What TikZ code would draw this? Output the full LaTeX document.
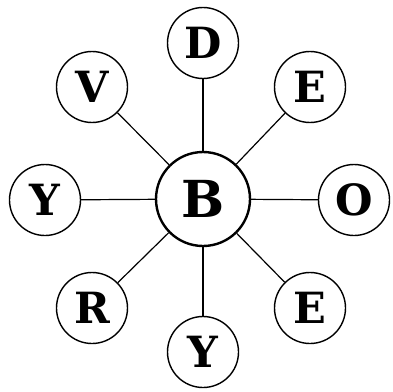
\documentclass[tikz,border=0pt]{standalone}
\usepackage{fontspec}
\newfontfamily\letterfont{DejaVu Serif}
\usepackage{tikz}
\usetikzlibrary{positioning}

\begin{document}
\begin{tikzpicture}[
        x=1pt, y=1pt,
        hub/.style={circle, draw=black, line width=2.4pt, fill=white,
                    minimum size=94pt, inner sep=0pt,
                    font=\letterfont\bfseries\fontsize{51}{51}\selectfont},
        leaf/.style={circle, draw=black, line width=1.4pt, fill=white,
                     minimum size=71pt, inner sep=0pt,
                     font=\letterfont\bfseries\fontsize{43}{43}\selectfont},
        spoke/.style={line width=1.2pt, color=black}
      ]
        \useasboundingbox (-203,-192) rectangle (190,199);

        % centre letter
        \node[hub] (b) at (0,0) {B};

        % outer letters, clockwise from the top
        \node[leaf] (d)  at (0,156)     {D};
        \node[leaf] (e1) at (107,112)   {E};
        \node[leaf] (o)  at (151,-1)    {O};
        \node[leaf] (e2) at (107,-109)  {E};
        \node[leaf] (y1) at (0,-153)    {Y};
        \node[leaf] (r)  at (-111,-109) {R};
        \node[leaf] (y2) at (-158,-1)   {Y};
        \node[leaf] (v)  at (-111,112)  {V};

        % spokes
        \draw[spoke] (b) -- (d);
        \draw[spoke] (b) -- (e1);
        \draw[spoke] (b) -- (o);
        \draw[spoke] (b) -- (e2);
        \draw[spoke] (b) -- (y1);
        \draw[spoke] (b) -- (r);
        \draw[spoke] (b) -- (y2);
        \draw[spoke] (b) -- (v);

      \end{tikzpicture}
\end{document}
